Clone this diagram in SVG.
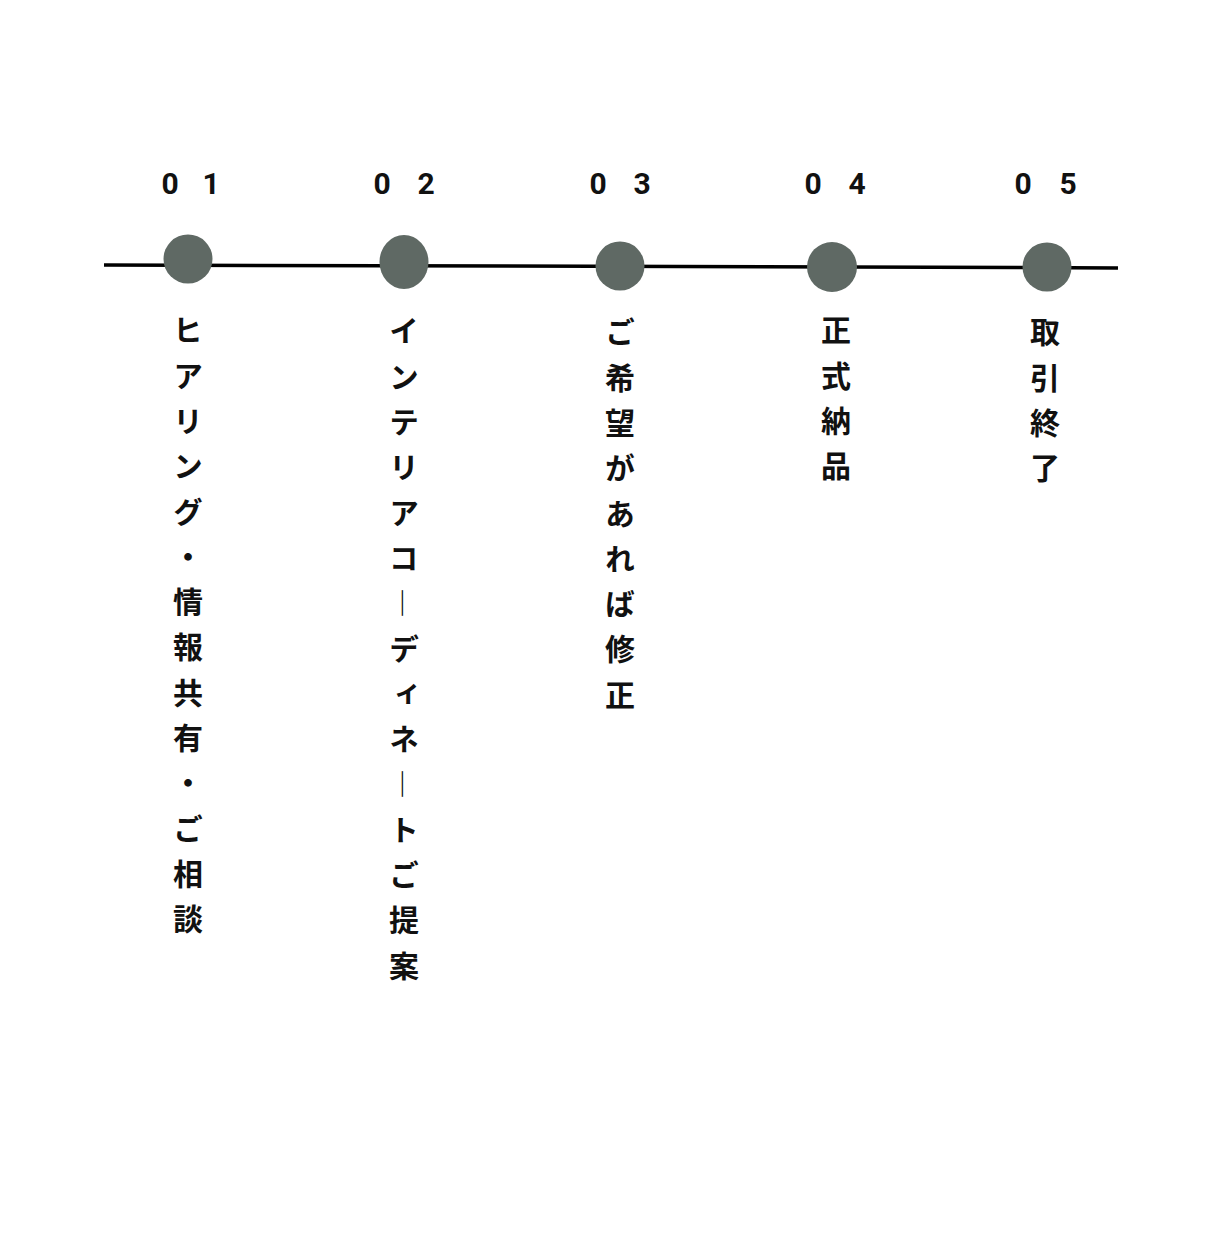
<svg xmlns="http://www.w3.org/2000/svg" width="1220" height="1240" viewBox="0 0 1220 1240">
<style>
.num{font-family:Roboto,"Liberation Sans",sans-serif;font-weight:700;font-size:30px;fill:#111;text-anchor:middle}
.lbl{font-family:"Noto Sans CJK JP","Noto Sans",sans-serif;font-weight:700;font-size:30px;fill:#111;writing-mode:vertical-rl;letter-spacing:15.3px}
.bar{font-weight:400}
.dot{fill:#5f6964}
</style>
<rect width="1220" height="1240" fill="#fff"/>
<g id="connectors">
<polyline points="104,265 1020,267.5 1118,268" fill="none" stroke="#000" stroke-width="3.5"/>
</g>
<g id="step1">
<text class="num" x="170 211" y="194">01</text>
<circle class="dot" cx="188" cy="259" r="24.5"/>
<text class="lbl" x="188" y="315">ヒアリング・情報共有・ご相談</text>
</g>
<g id="step2">
<text class="num" x="382 426" y="194">02</text>
<ellipse class="dot" cx="404" cy="262" rx="24.5" ry="27"/>
<text class="lbl" x="404" y="316">インテリアコ<tspan class="bar">―</tspan>ディネ<tspan class="bar">―</tspan>トご提案</text>
</g>
<g id="step3">
<text class="num" x="598 642" y="194">03</text>
<circle class="dot" cx="620" cy="266" r="24.5"/>
<text class="lbl" x="620" y="317">ご希望があれば修正</text>
</g>
<g id="step4">
<text class="num" x="813 857" y="194">04</text>
<circle class="dot" cx="832" cy="267" r="25"/>
<text class="lbl" x="836" y="315">正式納品</text>
</g>
<g id="step5">
<text class="num" x="1023 1068" y="194">05</text>
<circle class="dot" cx="1047" cy="267" r="24.5"/>
<text class="lbl" x="1045" y="317">取引終了</text>
</g>
</svg>
